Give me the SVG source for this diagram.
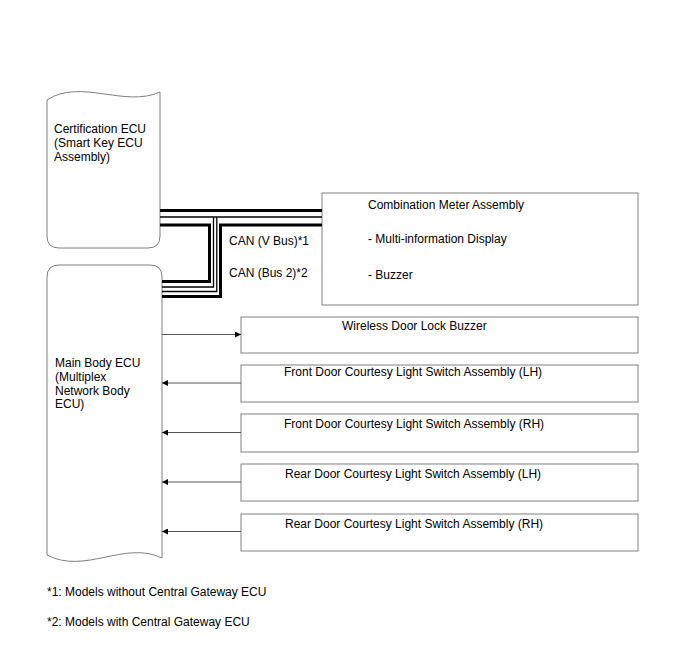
<svg xmlns="http://www.w3.org/2000/svg" width="688" height="658" viewBox="0 0 688 658">
<style>
text{font-family:"Liberation Sans",Arial,sans-serif;font-size:12px;fill:#000;}
.ecu{fill:#fff;stroke:#808080;stroke-width:1;}
.box{fill:#fff;stroke:#808080;stroke-width:1;}
.thick{fill:none;stroke:#000;stroke-width:3;}
.thin{fill:none;stroke:#000;stroke-width:1.3;}
.arr{fill:none;stroke:#555;stroke-width:1;}
</style>
<defs>
<marker id="ah" viewBox="0 0 10 10" refX="10" refY="5" markerWidth="10" markerHeight="6" markerUnits="userSpaceOnUse" orient="auto">
<path d="M0,0 L10,5 L0,10 Z" fill="#000"/>
</marker>
</defs>
<rect width="688" height="658" fill="#fff"/>
<g id="cert-ecu">
<path class="ecu" d="M47,100 C80,78 125,108 160,92 L160,236 Q160,248 148,248 L59,248 Q47,248 47,236 Z"/>
<text x="54" y="133">Certification ECU</text>
<text x="54" y="147">(Smart Key ECU</text>
<text x="54" y="161">Assembly)</text>
</g>
<g id="main-ecu">
<path class="ecu" d="M47,277 Q47,265 59,265 L150,265 Q162,265 162,277 L162,558 C125,540 85,575 47,555 Z"/>
<text x="55" y="367">Main Body ECU</text>
<text x="55" y="381">(Multiplex</text>
<text x="55" y="395">Network Body</text>
<text x="55" y="408">ECU)</text>
</g>
<g id="meter">
<rect class="box" x="322" y="193" width="316" height="112"/>
<text x="368" y="209">Combination Meter Assembly</text>
<text x="368" y="243">- Multi-information Display</text>
<text x="368" y="279">- Buzzer</text>
</g>
<g id="wireless-buzzer">
<rect class="box" x="241" y="317" width="397" height="36"/>
<text x="342" y="330">Wireless Door Lock Buzzer</text>
</g>
<g id="fd-lh">
<rect class="box" x="241" y="365" width="397" height="37"/>
<text x="284" y="376">Front Door Courtesy Light Switch Assembly (LH)</text>
</g>
<g id="fd-rh">
<rect class="box" x="241" y="414" width="397" height="38"/>
<text x="284" y="428">Front Door Courtesy Light Switch Assembly (RH)</text>
</g>
<g id="rd-lh">
<rect class="box" x="241" y="464" width="397" height="37"/>
<text x="285" y="478">Rear Door Courtesy Light Switch Assembly (LH)</text>
</g>
<g id="rd-rh">
<rect class="box" x="241" y="514" width="397" height="37"/>
<text x="285" y="528">Rear Door Courtesy Light Switch Assembly (RH)</text>
</g>
<g id="connectors">
<path class="thick" d="M160,210.5 H322"/>
<path class="thin" d="M160,217 H322"/>
<path class="thick" d="M160,225 H209.5 V281.5 H162"/>
<path class="thick" d="M322,225 H220.5 V296.5 H162"/>
<path class="thin" d="M213.5,217 V287 H162"/>
<path class="thin" d="M216.8,217 V291.5 H162"/>
<text x="229" y="245">CAN (V Bus)*1</text>
<text x="229" y="277">CAN (Bus 2)*2</text>
<path class="arr" d="M162,334.5 H241" marker-end="url(#ah)"/>
<path class="arr" d="M241,383 H162" marker-end="url(#ah)"/>
<path class="arr" d="M241,432.5 H162" marker-end="url(#ah)"/>
<path class="arr" d="M241,482 H162" marker-end="url(#ah)"/>
<path class="arr" d="M241,531.5 H162" marker-end="url(#ah)"/>
</g>
<text x="47" y="596">*1: Models without Central Gateway ECU</text>
<text x="47" y="626">*2: Models with Central Gateway ECU</text>
</svg>
